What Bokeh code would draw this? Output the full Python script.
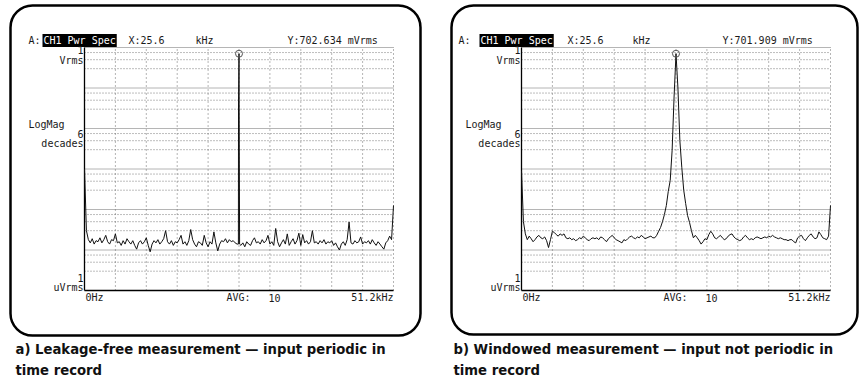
import numpy as np
from bokeh.plotting import figure
from bokeh.layouts import row
from bokeh.models import Label, BoxAnnotation, Range1d, LogScale
from bokeh.embed import file_html
from bokeh.resources import INLINE

# Analyzer settings
FREQ_SPAN_KHZ = 51.2
FREQ_STEP_KHZ = 0.32          # spacing of the stored trace samples
MARKER_KHZ = 25.6
V_MIN, V_MAX = 1.0, 1e6       # uVrms: 1 uVrms .. 1 Vrms, 6 decades

# Power spectrum magnitude, uVrms, one sample every 0.32 kHz from 0 Hz to 51.2 kHz
# a) sine exactly periodic in the time record (no window)
level_a = [
    1000, 30, 18, 15, 19, 14, 17, 16, 20, 15,
    18, 23, 16, 14, 18, 17, 25, 15, 16, 13,
    17, 14, 19, 16, 14, 17, 13, 10.5, 15, 17,
    14, 16, 20, 13, 9, 14, 17, 15, 18, 14,
    16, 19, 30, 16, 14, 17, 13, 16, 15, 18,
    23, 14, 16, 13, 17, 32, 18, 14, 12, 16,
    15, 13, 23, 15, 12, 16, 14, 28, 15, 9.5,
    14, 17, 16, 19, 15, 18, 16, 17, 15, 14,
    702634, 13, 15, 12, 16, 14, 13, 17, 20, 15,
    16, 14, 18, 15, 17, 23, 14, 16, 13, 34,
    16, 12, 15, 18, 14, 25, 13, 16, 19, 14,
    17, 26, 13, 24, 15, 17, 14, 16, 30, 15,
    16, 14, 17, 15, 18, 14, 16, 15, 17, 13,
    15, 12, 10, 14, 16, 13, 18, 49, 15, 14,
    17, 15, 16, 21, 14, 16, 15, 17, 14, 18,
    15, 13, 16, 14, 12, 10.5, 15, 17, 22, 18,
    126,
]
# extra samples on the flanks of the line in a)
edge_a_freq = [25.5, 25.52, 25.7]
edge_a_level = [14, 45000, 14]

# b) sine not periodic in the time record (Hanning window)
level_b = [
    900, 50, 25, 18, 22, 19, 16, 18, 21, 23,
    20, 19, 21, 17, 11.5, 18, 29, 27, 24, 22,
    25, 23, 25, 20, 19, 20, 18, 19, 17, 18,
    20, 19, 22, 20, 18, 17, 19, 20, 19, 20,
    18, 21, 20, 18, 16, 19, 21, 23, 20, 18,
    17, 16, 15, 18, 17, 19, 21, 22, 20, 19,
    21, 20, 23, 21, 19, 20, 21, 22, 20, 20,
    23, 29, 36, 50, 75, 126, 280, 520, 2900, 60000,
    701909, 100000, 5000, 1100, 300, 140, 71, 48, 30, 20,
    23, 20, 17, 14, 16, 19, 18, 24, 29, 25,
    20, 19, 21, 23, 20, 18, 19, 22, 24, 25,
    21, 19, 18, 17, 18, 21, 23, 20, 18, 19,
    18, 20, 21, 20, 19, 20, 21, 20, 22, 21,
    23, 21, 20, 19, 20, 19, 18, 18, 17, 18,
    18, 16, 15, 20, 22, 23, 19, 17, 20, 23,
    25, 21, 19, 20, 28, 24, 20, 19, 18, 22,
    126,
]

marker_a = 702634   # uVrms -> 702.634 mVrms
marker_b = 701909   # uVrms -> 701.909 mVrms

# graticule
freq_grid = [5.12, 10.24, 15.36, 20.48, 25.6, 30.72, 35.84, 40.96, 46.08, 51.2]
decade_grid = [10, 100, 1000, 10000, 100000, 1000000]
sub_ratios = [0.75, 0.5, 0.3]

MONO = "DejaVu Sans Mono"
CAPTION_FONT = "DejaVu Sans Condensed"
INK = "#1a1a1a"
W, H = 430, 377


def panel(levels, extra_f, extra_l, marker_level, marker_text, caption,
          frame, box, hdr, cap_x):
    fl, fr, ft, fb = frame
    # page coordinates (pixels, y down) for the screen furniture;
    # the spectrum gets its own kHz / log-uVrms ranges laid over the graticule box
    kpp = FREQ_SPAN_KHZ / (fr - fl)                       # kHz per pixel
    dpp = (np.log10(V_MAX) - np.log10(V_MIN)) / (fb - ft)  # decades per pixel
    f_range = Range1d(-fl * kpp, FREQ_SPAN_KHZ + (W - fr) * kpp)
    v_range = Range1d(V_MIN * 10 ** (-(H - fb) * dpp), V_MAX * 10 ** (ft * dpp))

    p = figure(width=W, height=H, x_range=Range1d(0, W), y_range=Range1d(H, 0),
               x_axis_location=None, y_axis_location=None,
               output_backend="svg", toolbar_location=None,
               min_border=0)
    p.extra_x_ranges = {"f": f_range}
    p.extra_y_ranges = {"v": v_range}
    p.extra_y_scales = {"v": LogScale()}
    p.outline_line_color = None
    p.background_fill_color = "white"
    p.border_fill_color = "white"
    p.grid.visible = False

    spec = dict(x_range_name="f", y_range_name="v")

    # graticule
    subs = [d * r for d in decade_grid for r in sub_ratios]
    p.segment(x0=0, x1=FREQ_SPAN_KHZ, y0=subs, y1=subs, line_color="#7a7a7a",
              line_width=1, line_dash="1 2", **spec)
    p.segment(x0=0, x1=FREQ_SPAN_KHZ, y0=decade_grid, y1=decade_grid, line_color="#6a6a6a",
              line_width=1, line_dash="1 1", **spec)
    p.segment(x0=freq_grid, x1=freq_grid, y0=V_MIN, y1=V_MAX, line_color="#6a6a6a",
              line_width=1, line_dash="1 3", **spec)
    p.segment(x0=[0, 0], x1=[0, FREQ_SPAN_KHZ], y0=[V_MIN, V_MIN], y1=[V_MAX, V_MIN],
              line_color="black", line_width=1.3, **spec)

    # trace
    freq = [i * FREQ_STEP_KHZ for i in range(len(levels))] + list(extra_f)
    lev = list(levels) + list(extra_l)
    order = np.argsort(freq, kind="stable")
    p.line(x=np.array(freq)[order], y=np.array(lev)[order], line_color="#111111",
           line_width=1, **spec)
    p.scatter(x=[MARKER_KHZ], y=[marker_level], marker="circle", size=7,
              fill_color=None, line_color="#555555", line_width=1, **spec)

    def txt(x, y, s, align="left", **kw):
        opts = dict(text_font=MONO, text_font_size="10px", text_color=INK)
        opts.update(kw)
        p.add_layout(Label(x=x, y=y, text=s, text_align=align,
                           text_baseline="middle", **opts))

    a_x, box_x, x_x, khz_x, y_x, lm_x = hdr
    txt(a_x, 40, "A:")
    txt(box_x, 40, "CH1 Pwr Spec", text_color="white", background_fill_color="black",
        padding=1)
    txt(x_x, 40, "X:25.6")
    txt(khz_x, 40, "kHz")
    txt(y_x, 40, marker_text)

    txt(fl - 1, 49, "1", "right")
    txt(fl - 1, 60, "Vrms", "right")
    txt(lm_x, 124, "LogMag")
    txt(fl - 1, 133, "6", "right")
    txt(fl - 1, 143, "decades", "right")
    txt(fl - 1, 277, "1", "right")
    txt(fl - 1, 287, "uVrms", "right")
    txt(fl + 1, 297, "0Hz")
    txt(fl + 142, 297, "AVG:")
    txt(fl + 184, 297, "10")
    txt(fr, 297, "51.2kHz", "right")

    # rounded frame around the screen
    bl, br, bt, bb = box
    p.add_layout(BoxAnnotation(left=bl, right=br, top=bt, bottom=bb,
                               fill_alpha=0, line_color="black", line_alpha=1,
                               line_width=2.5, border_radius=22))

    # caption
    for yy, line in zip((348, 369), caption):
        p.add_layout(Label(x=cap_x, y=yy, text=line, text_font=CAPTION_FONT,
                           text_font_size="14.7px", text_font_style="bold",
                           text_color="#111111", text_baseline="middle"))
    return p


pa = panel(level_a, edge_a_freq, edge_a_level, marker_a, "Y:702.634 mVrms",
           ["a) Leakage-free measurement \u2014 input periodic in", "time record"],
           frame=(84, 393, 47, 290), box=(10, 420, 5, 335),
           hdr=(28, 42, 128, 195, 287, 28), cap_x=15)
pb = panel(level_b, [], [], marker_b, "Y:701.909 mVrms",
           ["b) Windowed measurement \u2014 input not periodic in", "time record"],
           frame=(91, 400, 47, 290), box=(21, 427, 5, 334),
           hdr=(28, 49, 137, 202, 292, 35), cap_x=23)

layout = row(pa, pb)
open("out.html", "w").write(file_html(layout, INLINE))
